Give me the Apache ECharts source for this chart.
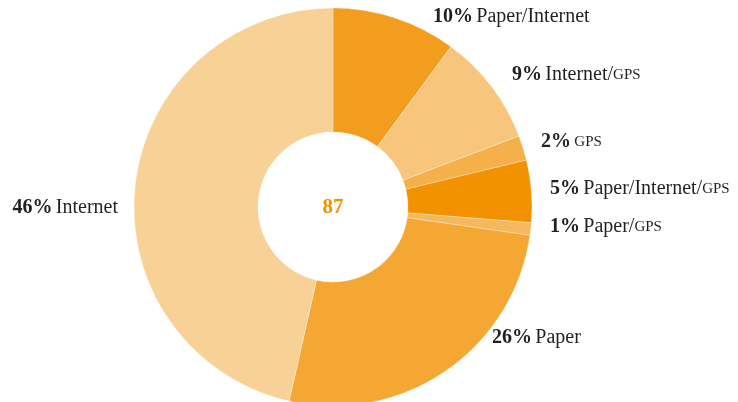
<!DOCTYPE html>
<html>
<head>
<meta charset="utf-8">
<script src="https://cdn.jsdelivr.net/npm/echarts@6/dist/echarts.min.js"></script>
<style>
  html, body { margin: 0; padding: 0; background: #fff; }
  #chart { width: 738px; height: 402px; }
</style>
</head>
<body>
<div id="chart"></div>
<script>
// Share of respondents per combination of sources (n = 87)
const categories = ['Paper/Internet', 'Internet/GPS', 'GPS', 'Paper/Internet/GPS', 'Paper/GPS', 'Paper', 'Internet'];
const percents = [10, 9, 2, 5, 1, 26, 46];
const total = 87;

// Slice colours, same order as categories
const colors = ['#F39D1E', '#F7C67C', '#F5B04A', '#F39200', '#F6B85C', '#F4A733', '#F8D197'];
// Label anchor points [x, y, align]
const labelPos = [
  [433, 17, 'left'],
  [512, 75, 'left'],
  [541, 142, 'left'],
  [550, 189, 'left'],
  [550, 227, 'left'],
  [492, 338, 'left'],
  [118, 208, 'right']
];

// "GPS" is set in small capitals: split names so it can use a smaller size
function nameRich(name) {
  return name.split(/(GPS)/).filter(s => s.length).map(s => s === 'GPS' ? '{sc|GPS}' : '{n|' + s + '}').join('');
}

const serif = 'Liberation Serif';
const ink = '#231F20';

const chart = echarts.init(document.getElementById('chart'), null, { renderer: 'canvas' });
chart.setOption({
  animation: false,
  backgroundColor: '#ffffff',
  graphic: [{
    type: 'text',
    x: 333, y: 208,
    style: {
      text: String(total),
      align: 'center', verticalAlign: 'middle',
      fontFamily: serif, fontWeight: 'bold', fontSize: 21, fill: '#F39200'
    }
  }],
  series: [{
    type: 'pie',
    center: [333, 207],
    radius: [75, 199],
    startAngle: 90,
    clockwise: true,
    avoidLabelOverlap: false,
    itemStyle: { borderColor: 'rgba(255,255,255,0.6)', borderWidth: 0.5 },
    labelLine: { show: false },
    emphasis: { disabled: true },
    label: {
      show: true,
      position: 'outside',
      formatter: p => '{b|' + percents[p.dataIndex] + '%} ' + nameRich(p.name),
      rich: {
        b: { fontFamily: serif, fontWeight: 'bold', fontSize: 20, color: ink },
        n: { fontFamily: serif, fontSize: 20, color: ink },
        sc: { fontFamily: serif, fontSize: 15, color: ink }
      }
    },
    labelLayout: params => {
      const p = labelPos[params.dataIndex];
      return { x: p[0], y: p[1], align: p[2], verticalAlign: 'middle' };
    },
    data: categories.map((c, i) => ({ name: c, value: percents[i], itemStyle: { color: colors[i] } }))
  }]
});
</script>
</body>
</html>
